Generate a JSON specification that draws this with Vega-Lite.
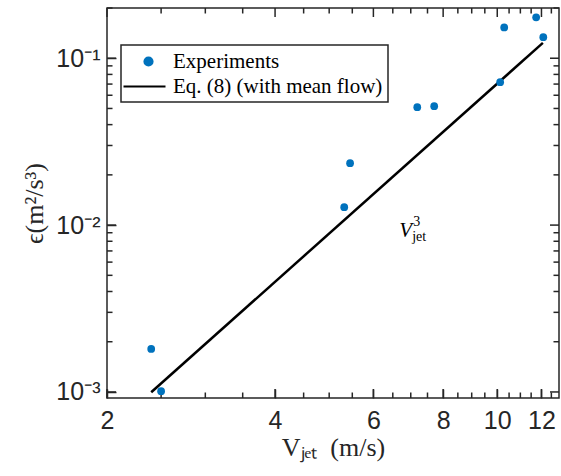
{
  "$schema": "https://vega.github.io/schema/vega-lite/v6.json",
  "width": 452,
  "height": 390,
  "autosize": {"type": "none"},
  "padding": {"left": 107, "top": 8, "right": 2, "bottom": 78},
  "background": "white",
  "config": {
    "view": {"stroke": "#262626", "strokeWidth": 1.5},
    "axis": {
      "grid": false,
      "domain": false,
      "tickColor": "#262626",
      "tickWidth": 1.5,
      "labelFont": "Liberation Sans",
      "labelFontSize": 25,
      "labelColor": "#262626",
      "titleFont": "Liberation Serif",
      "titleFontSize": 26,
      "titleFontWeight": "normal",
      "titleColor": "#262626"
    }
  },
  "resolve": {"axis": {"x": "independent", "y": "independent"}},
  "datasets": {
    "experiments": [
      {"V": 2.40, "eps": 0.00181, "series": "Experiments"},
      {"V": 2.50, "eps": 0.00101, "series": "Experiments"},
      {"V": 5.32, "eps": 0.0128, "series": "Experiments"},
      {"V": 5.45, "eps": 0.0235, "series": "Experiments"},
      {"V": 7.19, "eps": 0.0509, "series": "Experiments"},
      {"V": 7.71, "eps": 0.0516, "series": "Experiments"},
      {"V": 10.12, "eps": 0.0718, "series": "Experiments"},
      {"V": 10.29, "eps": 0.153, "series": "Experiments"},
      {"V": 11.74, "eps": 0.176, "series": "Experiments"},
      {"V": 12.09, "eps": 0.1336, "series": "Experiments"}
    ],
    "model": [
      {"V": 2.40, "eps": 0.000996, "series": "Eq. (8) (with mean flow)"},
      {"V": 12.07, "eps": 0.1235, "series": "Eq. (8) (with mean flow)"}
    ],
    "note": [
      {"V": 7.04, "eps": 0.00847}
    ],
    "xMajor": [{"t": 2}, {"t": 4}, {"t": 6}, {"t": 8}, {"t": 10}, {"t": 12}],
    "xMinor": [{"t": 2.5}, {"t": 3}, {"t": 3.5}, {"t": 4.5}, {"t": 5}, {"t": 5.5}, {"t": 6.5}, {"t": 7}, {"t": 7.5}, {"t": 8.5}, {"t": 9}, {"t": 9.5}, {"t": 10.5}, {"t": 11}, {"t": 11.5}, {"t": 12.5}],
    "yMajor": [{"t": 0.001}, {"t": 0.01}, {"t": 0.1}],
    "yMinor": [{"t": 0.002}, {"t": 0.003}, {"t": 0.004}, {"t": 0.005}, {"t": 0.006}, {"t": 0.007}, {"t": 0.008}, {"t": 0.009}, {"t": 0.02}, {"t": 0.03}, {"t": 0.04}, {"t": 0.05}, {"t": 0.06}, {"t": 0.07}, {"t": 0.08}, {"t": 0.09}, {"t": 0.2}]
  },
  "layer": [
    {
      "data": {"name": "model"},
      "mark": {"type": "line", "strokeWidth": 2.5},
      "encoding": {
        "x": {
          "field": "V", "type": "quantitative",
          "scale": {"type": "log", "domain": [2, 12.9], "nice": false},
          "axis": {
            "orient": "bottom",
            "domain": false,
            "offset": -9,
            "values": [2, 4, 6, 8, 10, 12],
            "labelExpr": "format(datum.value, 'd')",
            "tickSize": 9,
            "labelPadding": 10,
            "labelFlush": false,
            "labelOverlap": false,
            "title": "Vⱼₑₜ\u00a0 (m/s)",
            "titleBaseline": "alphabetic",
            "titleY": 66
          }
        },
        "y": {
          "field": "eps", "type": "quantitative",
          "scale": {"type": "log", "domain": [0.00092, 0.2], "nice": false},
          "axis": {
            "orient": "left",
            "domain": false,
            "offset": -9,
            "values": [0.001, 0.01, 0.1],
            "labelExpr": "datum.value == 0.1 ? '10⁻¹' : datum.value == 0.01 ? '10⁻²' : '10⁻³'",
            "tickSize": 9,
            "labelPadding": 7,
            "labelFlush": false,
            "labelOverlap": false,
            "title": "ϵ(m²/s³)",
            "titleAngle": 270,
            "titleBaseline": "alphabetic",
            "titleX": -74,
            "titleY": 195
          }
        },
        "color": {
          "field": "series", "type": "nominal",
          "scale": {"domain": ["Experiments", "Eq. (8) (with mean flow)"], "range": ["#0072BD", "#000000"]},
          "legend": {
            "title": null,
            "orient": "none",
            "legendX": 14,
            "legendY": 37,
            "padding": 5,
            "fillColor": "white",
            "strokeColor": "#262626",
            "labelFont": "Liberation Serif",
            "labelFontSize": 21,
            "labelColor": "#000000",
            "labelOffset": 24,
            "labelLimit": 400,
            "rowPadding": 3,
            "symbolSize": 400,
            "encode": {
              "legend": {"update": {"strokeWidth": {"value": 1.5}}},
              "symbols": {
                "update": {
                  "shape": {"signal": "datum.value === 'Experiments' ? 'M0.7,0A0.4,0.4 0 1,0 1.5,0A0.4,0.4 0 1,0 0.7,0Z' : 'M-1.4,0H2.8'"},
                  "size": {"value": 400},
                  "fill": {"signal": "datum.value === 'Experiments' ? '#0072BD' : 'transparent'"},
                  "stroke": {"signal": "datum.value === 'Experiments' ? 'transparent' : '#000000'"},
                  "strokeWidth": {"value": 2.2}
                }
              }
            }
          }
        }
      }
    },
    {
      "data": {"name": "xMajor"},
      "mark": {"type": "rule", "color": "#262626", "strokeWidth": 1.5},
      "encoding": {
        "x": {"field": "t", "type": "quantitative", "axis": null},
        "y": {"datum": 0.00092, "type": "quantitative", "axis": null},
        "y2": {"datum": 0.0010416}
      }
    },
    {
      "data": {"name": "xMinor"},
      "mark": {"type": "rule", "color": "#262626", "strokeWidth": 1.5},
      "encoding": {
        "x": {"field": "t", "type": "quantitative", "axis": null},
        "y": {"datum": 0.00092, "type": "quantitative", "axis": null},
        "y2": {"datum": 0.0009925}
      }
    },
    {
      "data": {"name": "xMajor"},
      "mark": {"type": "rule", "color": "#262626", "strokeWidth": 1.5},
      "encoding": {
        "x": {"field": "t", "type": "quantitative", "axis": null},
        "y": {"datum": 0.2, "type": "quantitative", "axis": null},
        "y2": {"datum": 0.17665}
      }
    },
    {
      "data": {"name": "xMinor"},
      "mark": {"type": "rule", "color": "#262626", "strokeWidth": 1.5},
      "encoding": {
        "x": {"field": "t", "type": "quantitative", "axis": null},
        "y": {"datum": 0.2, "type": "quantitative", "axis": null},
        "y2": {"datum": 0.18539}
      }
    },
    {
      "data": {"name": "yMajor"},
      "mark": {"type": "rule", "color": "#262626", "strokeWidth": 1.5},
      "encoding": {
        "y": {"field": "t", "type": "quantitative", "axis": null},
        "x": {"datum": 2, "type": "quantitative", "axis": null},
        "x2": {"datum": 2.0757}
      }
    },
    {
      "data": {"name": "yMinor"},
      "mark": {"type": "rule", "color": "#262626", "strokeWidth": 1.5},
      "encoding": {
        "y": {"field": "t", "type": "quantitative", "axis": null},
        "x": {"datum": 2, "type": "quantitative", "axis": null},
        "x2": {"datum": 2.046}
      }
    },
    {
      "data": {"name": "yMajor"},
      "mark": {"type": "rule", "color": "#262626", "strokeWidth": 1.5},
      "encoding": {
        "y": {"field": "t", "type": "quantitative", "axis": null},
        "x": {"datum": 12.9, "type": "quantitative", "axis": null},
        "x2": {"datum": 12.43}
      }
    },
    {
      "data": {"name": "yMinor"},
      "mark": {"type": "rule", "color": "#262626", "strokeWidth": 1.5},
      "encoding": {
        "y": {"field": "t", "type": "quantitative", "axis": null},
        "x": {"datum": 12.9, "type": "quantitative", "axis": null},
        "x2": {"datum": 12.61}
      }
    },
    {
      "data": {"name": "experiments"},
      "mark": {"type": "point", "filled": true, "size": 60, "opacity": 1},
      "encoding": {
        "x": {"field": "V", "type": "quantitative", "axis": null},
        "y": {"field": "eps", "type": "quantitative", "axis": null},
        "color": {"field": "series", "type": "nominal"}
      }
    },
    {
      "data": {"name": "note"},
      "mark": {"type": "text", "text": "V", "font": "Liberation Serif", "fontStyle": "italic", "fontSize": 21, "align": "right", "baseline": "alphabetic", "color": "#000000"},
      "encoding": {
        "x": {"field": "V", "type": "quantitative", "axis": null},
        "y": {"field": "eps", "type": "quantitative", "axis": null}
      }
    },
    {
      "data": {"name": "note"},
      "mark": {"type": "text", "text": "3", "font": "Liberation Serif", "fontSize": 14, "align": "left", "baseline": "alphabetic", "dx": 1, "dy": -11, "color": "#000000"},
      "encoding": {
        "x": {"field": "V", "type": "quantitative", "axis": null},
        "y": {"field": "eps", "type": "quantitative", "axis": null}
      }
    },
    {
      "data": {"name": "note"},
      "mark": {"type": "text", "text": "jet", "font": "Liberation Serif", "fontSize": 14, "align": "left", "baseline": "alphabetic", "dx": 0, "dy": 4, "color": "#000000"},
      "encoding": {
        "x": {"field": "V", "type": "quantitative", "axis": null},
        "y": {"field": "eps", "type": "quantitative", "axis": null}
      }
    }
  ]
}
